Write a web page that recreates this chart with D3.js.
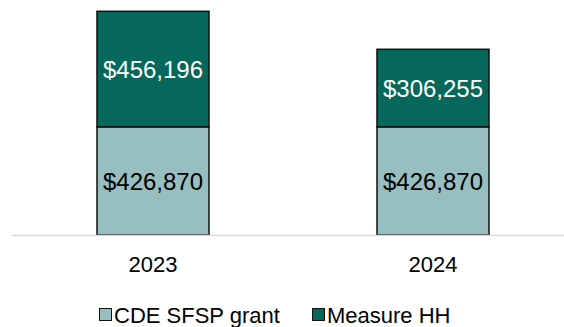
<!DOCTYPE html>
<html>
<head>
<meta charset="utf-8">
<script src="https://cdn.jsdelivr.net/npm/d3@7"></script>
<style>
  html, body { margin: 0; padding: 0; background: #ffffff; }
  svg { display: block; font-family: "Liberation Sans", Arial, sans-serif; }
</style>
</head>
<body>
<svg id="chart" width="564" height="327"></svg>
<script>
// Funding sources by year
const years = ["2023", "2024"];
const seriesNames = ["CDE SFSP grant", "Measure HH"];
const cdeGrant = [426870, 426870];
const measureHH = [456196, 306255];
const seriesColors = ["#97bec0", "#05685a"];
const labelColors = ["#000000", "#ffffff"];

const rows = years.map((y, i) => ({ year: y, "CDE SFSP grant": cdeGrant[i], "Measure HH": measureHH[i] }));
const stacked = d3.stack().keys(seriesNames)(rows);

const svg = d3.select("#chart");

const x = d3.scaleBand()
  .domain(years)
  .range([13, 573])
  .paddingInner(0.6)
  .paddingOuter(0.3);

const y = d3.scaleLinear()
  .domain([0, 900000])
  .range([235, 7]);

const fmt = v => "$" + d3.format(",")(v);

// stacked segments
const layers = svg.selectAll("g.layer")
  .data(stacked)
  .join("g")
  .attr("class", "layer");

layers.each(function (layer, li) {
  const g = d3.select(this);
  g.selectAll("rect")
    .data(layer)
    .join("rect")
    .attr("x", d => x(d.data.year))
    .attr("width", x.bandwidth())
    .attr("y", d => y(d[1]))
    .attr("height", d => y(d[0]) - y(d[1]))
    .attr("fill", seriesColors[li])
    .attr("stroke", "#111111")
    .attr("stroke-width", 1.5);

  g.selectAll("text")
    .data(layer)
    .join("text")
    .attr("x", d => x(d.data.year) + x.bandwidth() / 2)
    .attr("y", d => (y(d[0]) + y(d[1])) / 2)
    .attr("dy", "0.36em")
    .attr("text-anchor", "middle")
    .attr("font-size", 24)
    .attr("fill", labelColors[li])
    .text(d => fmt(d[1] - d[0]));
});

// category axis
svg.append("line")
  .attr("x1", 12).attr("x2", 564)
  .attr("y1", y(0) + 0.5).attr("y2", y(0) + 0.5)
  .attr("stroke", "#d9d9d9")
  .attr("stroke-width", 1.5);

svg.selectAll("text.year")
  .data(years)
  .join("text")
  .attr("class", "year")
  .attr("x", d => x(d) + x.bandwidth() / 2)
  .attr("y", 272)
  .attr("text-anchor", "middle")
  .attr("font-size", 22)
  .attr("fill", "#000000")
  .text(d => d);

// legend
const legendX = [99, 312];
const legend = svg.selectAll("g.legend")
  .data(seriesNames)
  .join("g")
  .attr("class", "legend")
  .attr("transform", (d, i) => `translate(${legendX[i]},308)`);

legend.append("rect")
  .attr("x", 0.5).attr("y", 0.5)
  .attr("width", 12).attr("height", 12)
  .attr("fill", (d, i) => seriesColors[i])
  .attr("stroke", "#111111")
  .attr("stroke-width", 1);

legend.append("text")
  .attr("x", 15)
  .attr("y", 14.5)
  .attr("font-size", 22)
  .attr("fill", "#000000")
  .text(d => d);
</script>
</body>
</html>
